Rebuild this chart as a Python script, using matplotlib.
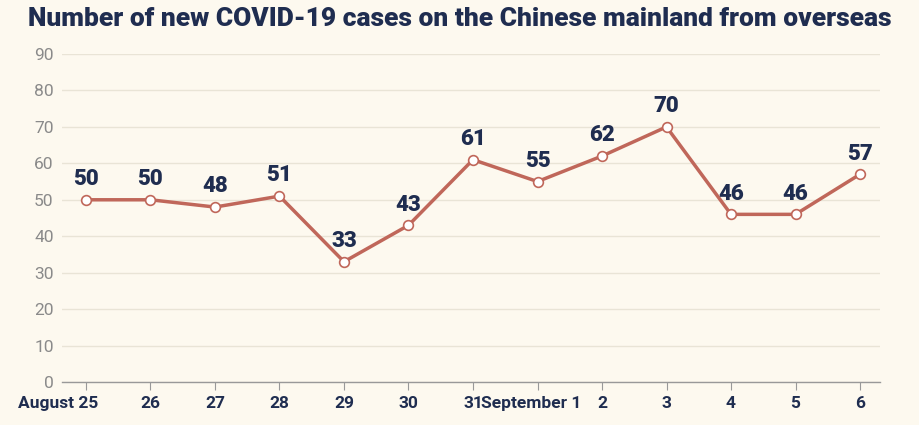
import matplotlib.pyplot as plt
import matplotlib.transforms as mtransforms

# data
days = ["August 25", "26", "27", "28", "29", "30", "31", "September 1",
        "2", "3", "4", "5", "6"]
cases = [50, 50, 48, 51, 33, 43, 61, 55, 62, 70, 46, 46, 57]
yticks = [0, 10, 20, 30, 40, 50, 60, 70, 80, 90]

bg = "#FDF9EF"
navy = "#1F2D50"
red = "#C0675A"

plt.rcParams['font.family'] = ['Roboto', 'DejaVu Sans']

fig = plt.figure(figsize=(9.2, 4.25), dpi=100, facecolor=bg)
ax = fig.add_axes([62/920, 43/425, 818/920, 328/425], facecolor=bg)

x = list(range(len(days)))
ax.plot(x, cases, color=red, lw=2.5, marker="o", ms=7,
        markerfacecolor="white", markeredgecolor=red, markeredgewidth=1.2, zorder=3)
for xi, v in zip(x, cases):
    ax.annotate(str(v), (xi, v), xytext=(0, 7), textcoords="offset points",
                ha="center", va="bottom", fontsize=16, fontweight="black", color=navy)

ax.set_xlim(-0.372, 12.31)
ax.set_ylim(0, 90)
ax.set_yticks(yticks)
ax.set_xticks(x)
ax.set_xticklabels(days, fontsize=12.5, fontweight="bold", color=navy)
ax.tick_params(axis="y", length=0, labelsize=12.5, labelcolor="#8A8A8A", pad=6)
ax.tick_params(axis="x", length=6, color="#999999", pad=4)
ax.grid(axis="y", color="#E9E4D6", lw=1)
ax.set_axisbelow(True)
for s in ["top", "right", "left"]:
    ax.spines[s].set_visible(False)
ax.spines["bottom"].set_color("#999999")
ax.spines["bottom"].set_linewidth(1)

# "August 25": keep the day number on the tick, month to the left
first = ax.get_xticklabels()[0]
first.set_horizontalalignment("right")
first.set_transform(first.get_transform() +
                    mtransforms.ScaledTranslation(12/100, 0, fig.dpi_scale_trans))
sep = ax.get_xticklabels()[7]
sep.set_transform(sep.get_transform() +
                  mtransforms.ScaledTranslation(-6/100, 0, fig.dpi_scale_trans))

fig.text(0.5, 0.955, "Number of new COVID-19 cases on the Chinese mainland from overseas",
         ha="center", va="center", fontsize=19, fontweight="black", color=navy)

plt.savefig("out.png", dpi=100, facecolor=bg)
